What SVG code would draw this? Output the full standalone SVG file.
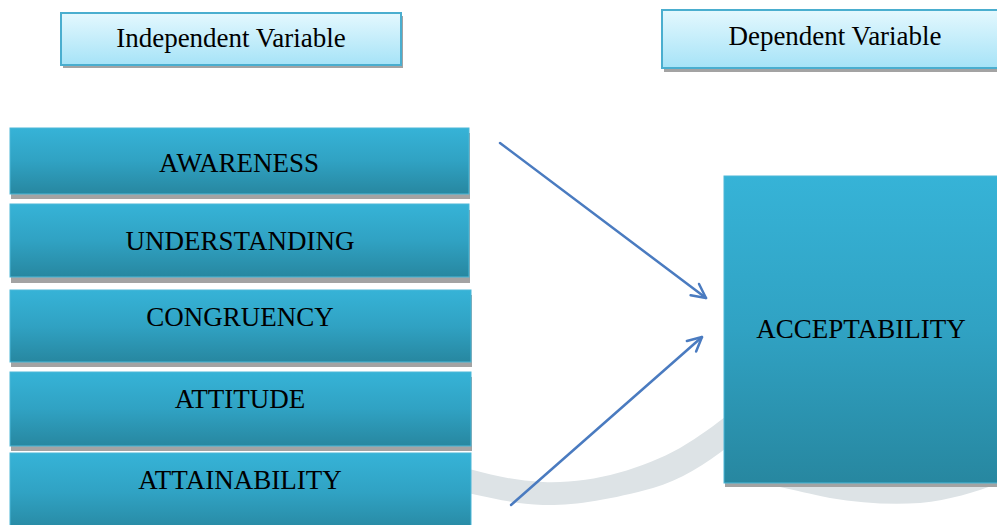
<svg xmlns="http://www.w3.org/2000/svg" width="997" height="525" viewBox="0 0 997 525">
  <defs>
    <linearGradient id="boxFill" x1="0" y1="0" x2="0" y2="1">
      <stop offset="0" stop-color="#36b3d7"/>
      <stop offset="0.5" stop-color="#30a2c3"/>
      <stop offset="1" stop-color="#2787a0"/>
    </linearGradient>
    <linearGradient id="headFill" x1="0" y1="0" x2="0" y2="1">
      <stop offset="0" stop-color="#e4f8fe"/>
      <stop offset="1" stop-color="#a6e3f7"/>
    </linearGradient>
    <marker id="openArrow" viewBox="0 0 20 20" refX="18" refY="10" markerWidth="20" markerHeight="20" markerUnits="userSpaceOnUse" orient="auto">
      <path d="M4,3 L18,10 L4,17" fill="none" stroke="#4a7bc0" stroke-width="2.5" stroke-linecap="round" stroke-linejoin="round"/>
    </marker>
    <style>
      .head { fill: url(#headFill); stroke: #4aaecf; stroke-width: 2; }
      .box { fill: url(#boxFill); stroke: #4cb8d8; stroke-width: 1; }
      .shadow { fill: #a3a3a3; }
      .label { font-family: "Liberation Serif", "Times New Roman", serif; font-size: 27px; fill: #000; text-anchor: middle; }
      .conn { fill: none; stroke: #4a7bc0; stroke-width: 2.5; stroke-linecap: round; marker-end: url(#openArrow); }
      .swoosh { fill: #dde3e6; }
    </style>
  </defs>

  <rect width="997" height="525" fill="#ffffff"/>

  <!-- background swooshes -->
  <g id="backdrop">
    <path class="swoosh" d="M440,462 C470,468 500,480 543,482 C590,484 640,470 680,448 C700,436 715,425 730,413 L730,445 C705,465 680,480 653,488 C610,500 570,506 543,505 C510,504 480,495 440,487 Z"/>
    <path class="swoosh" d="M760,470 L997,470 L997,484 C975,492 950,500 920,503 C890,505 860,503 830,498 C810,494 795,490 780,487 Z"/>
  </g>

  <g id="independent-header">
    <rect class="shadow" x="63" y="16" width="340" height="52"/>
    <rect class="head" x="61" y="13" width="340" height="52"/>
    <text class="label" x="231" y="47">Independent Variable</text>
  </g>

  <g id="dependent-header">
    <rect class="shadow" x="664" y="13" width="340" height="59"/>
    <rect class="head" x="662" y="10" width="340" height="58"/>
    <text class="label" x="835" y="45">Dependent Variable</text>
  </g>

  <g id="awareness">
    <rect class="shadow" x="11" y="133" width="459" height="66"/>
    <rect class="box" x="10" y="128" width="459" height="66"/>
    <text class="label" x="239" y="172">AWARENESS</text>
  </g>

  <g id="understanding">
    <rect class="shadow" x="11" y="210" width="459" height="73"/>
    <rect class="box" x="10" y="204" width="459" height="73"/>
    <text class="label" x="240" y="250">UNDERSTANDING</text>
  </g>

  <g id="congruency">
    <rect class="shadow" x="11" y="295" width="461" height="72"/>
    <rect class="box" x="10" y="290" width="461" height="72"/>
    <text class="label" x="240" y="326">CONGRUENCY</text>
  </g>

  <g id="attitude">
    <rect class="shadow" x="11" y="377" width="461" height="74"/>
    <rect class="box" x="10" y="372" width="461" height="74"/>
    <text class="label" x="240" y="408">ATTITUDE</text>
  </g>

  <g id="attainability">
    <rect class="box" x="10" y="453" width="461" height="80"/>
    <text class="label" x="240" y="489">ATTAINABILITY</text>
  </g>

  <g id="acceptability">
    <rect class="shadow" x="725" y="180" width="276" height="307"/>
    <rect class="box" x="724" y="176" width="276" height="307"/>
    <text class="label" x="861" y="338">ACCEPTABILITY</text>
  </g>

  <g id="connectors">
    <line class="conn" x1="500" y1="143" x2="706" y2="298"/>
    <line class="conn" x1="511" y1="505" x2="702" y2="337"/>
  </g>
</svg>
